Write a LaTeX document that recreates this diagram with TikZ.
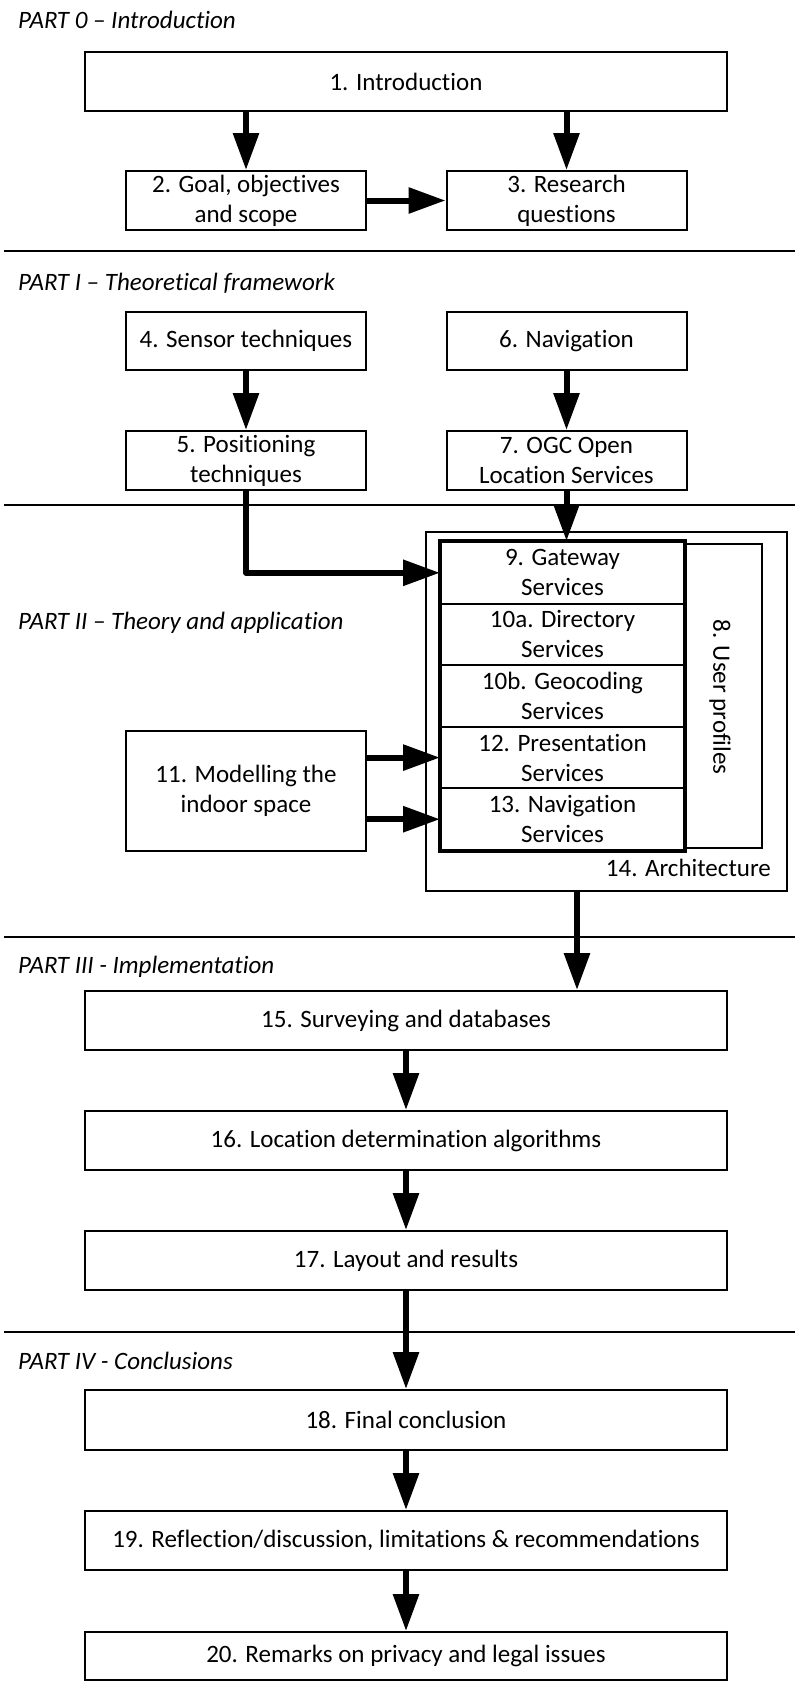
\documentclass[tikz,border=0pt]{standalone}
\usepackage{fontspec}
\setmainfont{Carlito}[Ligatures=NoCommon]
\usetikzlibrary{arrows.meta}
\newcommand\myboxfont{\fontsize{25}{30}\selectfont}
\newcommand\mypartfont{\fontsize{25}{30}\selectfont\itshape}
\begin{document}
\begin{tikzpicture}[x=1pt,y=-1pt,
  box/.style={draw, line width=2pt, inner sep=0pt, align=center, font=\myboxfont},
  wide/.style={box, minimum width=642pt, minimum height=59pt},
  small/.style={box, minimum width=240pt, minimum height=59pt},
  svc/.style={box, minimum width=243pt, minimum height=61.6pt, fill=white},
  thin/.style={draw, line width=1.5pt, inner sep=0pt},
  part/.style={anchor=base west, inner sep=0pt, font=\mypartfont},
  rule/.style={line width=2pt},
  arr/.style={line width=6pt, -{Triangle[length=37pt,width=25pt]}}
]
\fill[white] (0,0) rectangle (795,1682);
\useasboundingbox (0,0) rectangle (795,1682);

% separators
\draw[rule] (4,251) -- (795,251);
\draw[rule] (4,505) -- (795,505);
\draw[rule] (4,937) -- (795,937);
\draw[rule] (4,1332) -- (795,1332);

% PART 0
\node[part] (p0) at (18,28) {PART 0 -- Introduction};
\node[wide] (b1) at (406,81.5) {1. Introduction};
\node[small] (b2) at (246,200.5) {2. Goal, objectives\\and scope};
\node[small] (b3) at (566.5,200.5) {3. Research\\questions};
\draw[arr] (b1.south -| b2) -- (b2.north);
\draw[arr] (b1.south -| b3) -- (b3.north);
\draw[arr] (b2.east) -- (b3.west);

% PART I
\node[part] (p1) at (18,290) {PART I -- Theoretical framework};
\node[small, minimum height=58pt] (b4) at (246,341) {4. Sensor techniques};
\node[small, minimum height=58pt] (b6) at (566.5,341) {6. Navigation};
\node[small] (b5) at (246,460.5) {5. Positioning\\techniques};
\node[small] (b7) at (566.5,460.5) {7. OGC Open\\Location Services};
\draw[arr] (b4.south) -- (b5.north);
\draw[arr] (b6.south) -- (b7.north);

% PART II
\node[part] (p2) at (18,629) {PART II -- Theory and application};
\node[thin, minimum width=361pt, minimum height=359pt] (arch) at (606.5,711.5) {};
\node[anchor=east, inner sep=0pt, font=\myboxfont] (archlabel) at (771,868) {14. Architecture};
\node[thin, minimum width=78pt, minimum height=304pt] (up) at (723,696) {};
\node[rotate=-90, inner sep=0pt, font=\myboxfont] (uplabel) at (720,697) {8. User profiles};
\node[svc] (s9) at (562.5,572.8) {9. Gateway\\Services};
\node[svc] (s10a) at (562.5,634.4) {10a. Directory\\Services};
\node[svc] (s10b) at (562.5,696) {10b. Geocoding\\Services};
\node[svc] (s12) at (562.5,757.6) {12. Presentation\\Services};
\node[svc] (s13) at (562.5,819.2) {13. Navigation\\Services};
\draw[line width=3.5pt] (s9.north west) rectangle (s13.south east);
\node[small, minimum height=120pt] (b11) at (246,791) {11. Modelling the\\indoor space};
\draw[arr] (b7.south) -- (b7.south |- s9.north);
\draw[arr, line join=round] (b5.south) |- (s9.west);
\draw[arr] (b11.east |- s12.west) -- (s12.west);
\draw[arr] (b11.east |- s13.west) -- (s13.west);

% PART III
\node[part] (p3) at (18,973) {PART III - Implementation};
\node[wide] (b15) at (406,1020.5) {15. Surveying and databases};
\node[wide] (b16) at (406,1140.5) {16. Location determination algorithms};
\node[wide] (b17) at (406,1260.5) {17. Layout and results};
\coordinate (archout) at (577,891);
\draw[arr] (archout) -- (archout |- b15.north);
\draw[arr] (b15.south) -- (b16.north);
\draw[arr] (b16.south) -- (b17.north);

% PART IV
\node[part] (p4) at (18,1369) {PART IV - Conclusions};
\node[wide, minimum height=60pt] (b18) at (406,1420) {18. Final conclusion};
\node[wide] (b19) at (406,1540.5) {19. Reflection/discussion, limitations \& recommendations};
\node[wide, minimum height=48pt] (b20) at (406,1656) {20. Remarks on privacy and legal issues};
\draw[arr] (b17.south) -- (b18.north);
\draw[arr] (b18.south) -- (b19.north);
\draw[arr] (b19.south) -- (b20.north);
\end{tikzpicture}
\end{document}
